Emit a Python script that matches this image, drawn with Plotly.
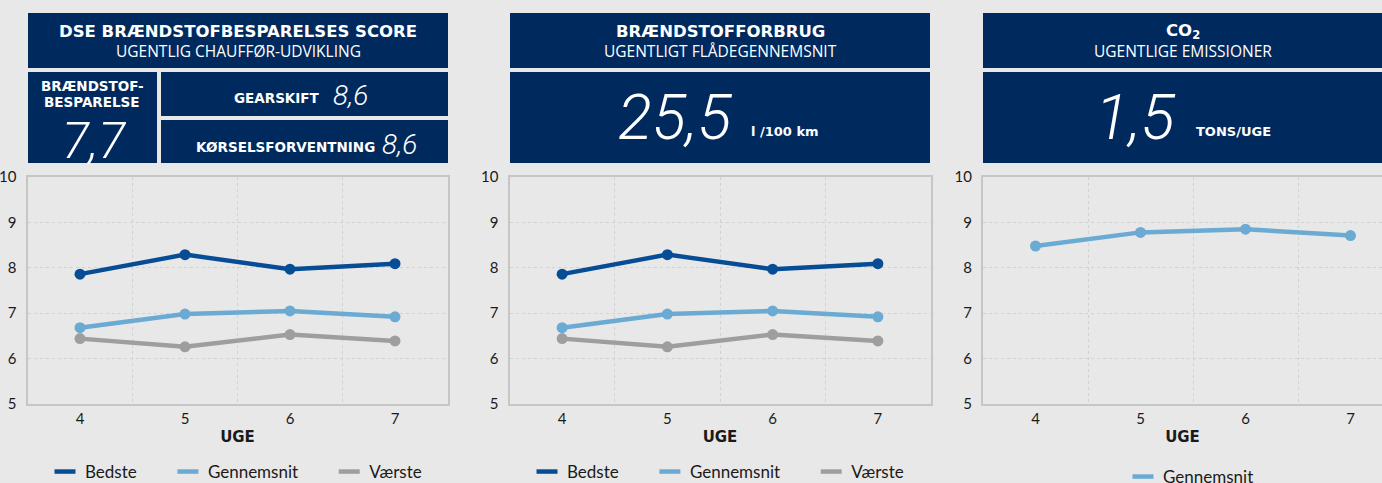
import plotly.graph_objects as go

W, H = 1382, 483

weeks = ["4", "5", "6", "7"]
bedste = [7.86, 8.29, 7.97, 8.09]
gennemsnit = [6.68, 6.98, 7.05, 6.92]
vaerste = [6.44, 6.26, 6.53, 6.39]
co2_gennemsnit = [8.48, 8.78, 8.85, 8.71]

score_total = "7,7"
score_gear = "8,6"
score_korsel = "8,6"
fuel_value = "25,5"
co2_value = "1,5"

NAVY = "#002a5e"
BG = "#e8e8e8"
C_BEST = "#074d96"
C_AVG = "#6aaad3"
C_WORST = "#9e9e9f"
TXT = "#1a1a1a"
FONT = "Lato"
HFONT = "Open Sans"
BFONT = "DejaVu Sans"
NUMFONT = "Roboto"
PAD = "\u00a0" * 6


def px(x):
    return x / W


def py(y):
    return 1 - y / H


fig = go.Figure()

series = [("Bedste", bedste, C_BEST), ("Gennemsnit", gennemsnit, C_AVG), ("Værste", vaerste, C_WORST)]
panels = [("x", "y", "legend"), ("x2", "y2", "legend2")]
for xa, ya, lg in panels:
    for name, vals, col in series:
        fig.add_trace(go.Scatter(x=weeks, y=vals, mode="lines+markers", xaxis=xa, yaxis=ya,
                                 line=dict(color=col, width=4.5), marker=dict(size=11, color=col),
                                 showlegend=False, hoverinfo="skip"))
    for k, (name, vals, col) in enumerate(series):
        fig.add_trace(go.Scatter(x=[None], y=[None], mode="markers", xaxis=xa, yaxis=ya,
                                 name=name + (PAD if k < 2 else ""),
                                 marker=dict(symbol="line-ew", size=15, line=dict(color=col, width=4.5)),
                                 legend=lg, showlegend=True))

fig.add_trace(go.Scatter(x=weeks, y=co2_gennemsnit, mode="lines+markers", xaxis="x3", yaxis="y3",
                         line=dict(color=C_AVG, width=4.5), marker=dict(size=11, color=C_AVG),
                         showlegend=False, hoverinfo="skip"))
fig.add_trace(go.Scatter(x=[None], y=[None], mode="markers", xaxis="x3", yaxis="y3", name="Gennemsnit",
                         marker=dict(symbol="line-ew", size=15, line=dict(color=C_AVG, width=4.5)),
                         legend="legend3", showlegend=True))

plot_top, plot_bot = 177, 404
ydom = [py(plot_bot), py(plot_top)]
xdoms = [(27.5, 447.5), (509.5, 930.5), (983, 1382)]
xranges = [[-0.5, 3.5], [-0.5, 3.5], [-0.5, -0.5 + (1382 - 983) / 105.0]]

axis_common = dict(showline=True, mirror=True, linecolor="#c6c6c6", linewidth=2, automargin=False,
                   gridcolor="#d2d2d2", griddash="dot", gridwidth=1, zeroline=False,
                   ticks="", tickfont=dict(family=FONT, size=15, color=TXT))
layout = {}
for i, (dom, rng) in enumerate(zip(xdoms, xranges)):
    sfx = "" if i == 0 else str(i + 1)
    layout["xaxis" + sfx] = dict(axis_common, domain=[px(dom[0]), px(dom[1])], type="category",
                                 tickson="boundaries", range=rng, anchor="y" + sfx,
                                 title=dict(text="<b>UGE</b>", font=dict(family=BFONT, size=15, color=TXT), standoff=5))
    layout["yaxis" + sfx] = dict(axis_common, domain=ydom, range=[5, 10], dtick=1, anchor="x" + sfx, ticklabelstandoff=6)

leg_common = dict(orientation="h", xanchor="center", yanchor="middle", bgcolor="rgba(0,0,0,0)",
                  font=dict(family=FONT, size=17, color=TXT))
layout["legend"] = dict(leg_common, x=px(236), y=py(472))
layout["legend2"] = dict(leg_common, x=px(718), y=py(472))
layout["legend3"] = dict(leg_common, x=px(1191), y=py(477))

fig.update_layout(width=W, height=H, margin=dict(l=0, r=0, t=0, b=0, autoexpand=False),
                  paper_bgcolor=BG, plot_bgcolor=BG, **layout)

# header boxes
boxes = [(28, 13, 448, 68), (28, 72, 157, 163), (161, 72, 448, 116), (161, 120, 448, 163),
         (510, 13, 930, 68), (510, 72, 930, 163), (983, 13, 1382, 68), (983, 72, 1382, 163)]
for x0, y0, x1, y1 in boxes:
    fig.add_shape(type="rect", xref="paper", yref="paper", x0=px(x0), x1=px(x1), y0=py(y1), y1=py(y0),
                  fillcolor=NAVY, line=dict(width=0), layer="below")


def txt(x, y, text, size, bold=False, xanchor="center", family=HFONT, italic=False, weight=None):
    f = dict(family=family, size=size, color="white")
    if italic:
        f["style"] = "italic"
    if weight:
        f["weight"] = weight
    if bold:
        text = "<b>" + text + "</b>"
    fig.add_annotation(x=px(x), y=py(y), xref="paper", yref="paper", text=text, showarrow=False,
                       xanchor=xanchor, yanchor="middle", font=f)


txt(238, 31, "DSE BRÆNDSTOFBESPARELSES SCORE", 16.5, bold=True, family=BFONT)
txt(238, 51, "UGENTLIG CHAUFFØR-UDVIKLING", 15.5)
txt(92, 86, "BRÆNDSTOF-", 13.5, bold=True, family=BFONT)
txt(92, 102, "BESPARELSE", 13.5, bold=True, family=BFONT)
txt(94, 141, score_total, 50, family=NUMFONT, italic=True, weight=300)
txt(322, 98, "GEARSKIFT", 13.5, bold=True, xanchor="right", family=BFONT)
txt(331, 95, score_gear, 28, family=NUMFONT, italic=True, weight=300, xanchor="left")
txt(377, 147, "KØRSELSFORVENTNING", 13.5, bold=True, xanchor="right", family=BFONT)
txt(380, 144, score_korsel, 28, family=NUMFONT, italic=True, weight=300, xanchor="left")

txt(720, 31, "BRÆNDSTOFFORBRUG", 16.5, bold=True, family=BFONT)
txt(720, 51, "UGENTLIGT FLÅDEGENNEMSNIT", 15.5)
txt(735, 118, fuel_value, 63, family=NUMFONT, italic=True, weight=300, xanchor="right")
txt(749, 131, "l /100 km", 13, bold=True, xanchor="left", family=BFONT)

txt(1183, 31, "CO<sub>2</sub>", 16.5, bold=True, family=BFONT)
txt(1183, 51, "UGENTLIGE EMISSIONER", 15.5)
txt(1178, 118, co2_value, 63, family=NUMFONT, italic=True, weight=300, xanchor="right")
txt(1194, 131, "TONS/UGE", 13, bold=True, xanchor="left", family=BFONT)

fig.write_html("out.html", config={"displayModeBar": False},
               post_script="document.body.style.margin='0';document.documentElement.style.overflow='hidden';")
